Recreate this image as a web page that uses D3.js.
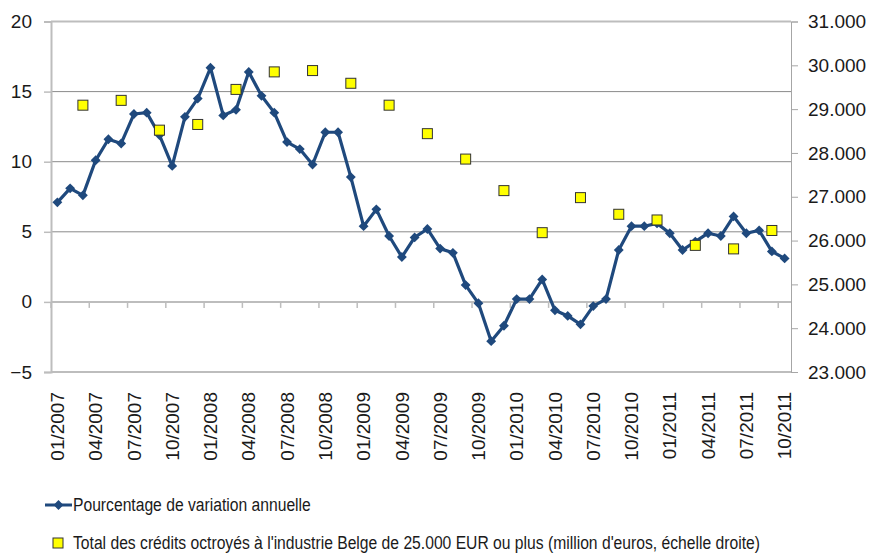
<!DOCTYPE html>
<html>
<head>
<meta charset="utf-8">
<script src="https://cdn.jsdelivr.net/npm/d3@7"></script>
<style>
  body { margin: 0; background: #fff; }
  text { font-family: "Liberation Sans Narrow", "Arial Narrow", "Liberation Sans", sans-serif; fill: #1a1a1a; }
</style>
</head>
<body>
<div class="chart"></div>
<script>
// monthly categories 01/2007 .. 10/2011
let months = [
  "01/2007","02/2007","03/2007","04/2007","05/2007","06/2007","07/2007","08/2007","09/2007","10/2007","11/2007","12/2007",
  "01/2008","02/2008","03/2008","04/2008","05/2008","06/2008","07/2008","08/2008","09/2008","10/2008","11/2008","12/2008",
  "01/2009","02/2009","03/2009","04/2009","05/2009","06/2009","07/2009","08/2009","09/2009","10/2009","11/2009","12/2009",
  "01/2010","02/2010","03/2010","04/2010","05/2010","06/2010","07/2010","08/2010","09/2010","10/2010","11/2010","12/2010",
  "01/2011","02/2011","03/2011","04/2011","05/2011","06/2011","07/2011","08/2011","09/2011","10/2011"
];

// annual % change (left axis)
let pctChange = [
  7.1, 8.1, 7.6, 10.1, 11.6, 11.3, 13.4, 13.5, 11.9, 9.7, 13.2, 14.5,
  16.7, 13.3, 13.7, 16.4, 14.7, 13.5, 11.4, 10.9, 9.8, 12.1, 12.1, 8.9,
  5.4, 6.6, 4.7, 3.2, 4.6, 5.2, 3.8, 3.5, 1.2, -0.1, -2.8, -1.7,
  0.2, 0.2, 1.6, -0.6, -1.0, -1.6, -0.3, 0.2, 3.7, 5.4, 5.4, 5.6,
  4.9, 3.7, 4.3, 4.9, 4.7, 6.1, 4.9, 5.1, 3.6, 3.1
];

// quarterly totals, million euros (right axis)
let quarterMonths = ["03/2007","06/2007","09/2007","12/2007","03/2008","06/2008","09/2008","12/2008",
  "03/2009","06/2009","09/2009","12/2009","03/2010","06/2010","09/2010","12/2010","03/2011","06/2011","09/2011"];
let totalCredits = [29090, 29200, 28520, 28650, 29450, 29850, 29880, 29590,
  29090, 28440, 27860, 27140, 26180, 26980, 26600, 26470, 25890, 25810, 26230];

let leftTicks = [-5, 0, 5, 10, 15, 20];
let rightTicks = [23000, 24000, 25000, 26000, 27000, 28000, 29000, 30000, 31000];

let seriesNames = ["Pourcentage de variation annuelle",
  "Total des crédits octroyés à l'industrie Belge de 25.000 EUR ou plus (million d'euros, échelle droite)"];

let outerWidth = 869, outerHeight = 556;
let margin = {top: 21.5, right: 78, bottom: 184, left: 51};
let width = outerWidth - margin.left - margin.right;
let height = outerHeight - margin.top - margin.bottom;

let svg = d3.select('.chart').append('svg')
  .attr('width', outerWidth)
  .attr('height', outerHeight)
  .append('g')
  .attr('transform', `translate(${margin.left},${margin.top})`);

const xScale = d3.scaleBand().domain(months).range([0, width]).padding(0);
const yScale = d3.scaleLinear().domain([-5, 20]).range([height, 0]);
const y2Scale = d3.scaleLinear().domain([23000, 31000]).range([height, 0]);
let bw = xScale.bandwidth();

// gridlines
svg.append('g').selectAll('line')
  .data(leftTicks)
  .enter().append('line')
  .attr('x1', 0).attr('x2', width)
  .attr('y1', d => yScale(d)).attr('y2', d => yScale(d))
  .attr('stroke', d => (d == 5 || d == 10 || d == 15) ? '#8a8a8a' : '#bdbdbd')
  .attr('stroke-width', d => (d == 5 || d == 10 || d == 15) ? 1 : 2);

// left axis
let yAxis = d3.axisLeft(yScale).tickValues(leftTicks).tickSize(7).tickPadding(12);
let gy = svg.append('g').attr('class', 'axis').call(yAxis);
gy.select('.domain').attr('stroke', '#bdbdbd').attr('stroke-width', 2);
gy.selectAll('.tick line').attr('stroke', '#bdbdbd').attr('stroke-width', 1.5);
gy.selectAll('.tick text').attr('font-size', 19);

// right axis
let y2Axis = d3.axisRight(y2Scale).tickValues(rightTicks).tickSize(7).tickPadding(10)
  .tickFormat(d => d3.format(',')(d).replace(',', '.'));
let gy2 = svg.append('g').attr('transform', `translate(${width},0)`).call(y2Axis);
gy2.select('.domain').attr('stroke', '#a6a6a6');
gy2.selectAll('.tick line').attr('stroke', '#a6a6a6');
gy2.selectAll('.tick text').attr('font-size', 19);

// category axis: ticks on band boundaries, every 3 months, crossing at 0
let tickMonths = months.filter((d, i) => i % 3 == 0);
let xTicks = d3.axisBottom(xScale).tickValues(tickMonths).tickSize(6).tickFormat('');
let gx = svg.append('g').attr('transform', `translate(${-bw / 2},${yScale(0)})`).call(xTicks);
gx.select('.domain').remove();
gx.selectAll('.tick line').attr('stroke', '#bdbdbd').attr('stroke-width', 1.5);

let xLabels = d3.axisBottom(xScale).tickValues(tickMonths).tickSize(0);
let gxl = svg.append('g').attr('transform', `translate(0,${height})`).call(xLabels);
gxl.select('.domain').remove();
gxl.selectAll('.tick text')
  .attr('font-size', 19)
  .attr('transform', 'rotate(-90)')
  .attr('text-anchor', 'end')
  .attr('dy', '0.35em')
  .attr('x', -20)
  .attr('y', 0);

// line series
let line = d3.line()
  .x((d, i) => xScale(months[i]) + bw / 2)
  .y(d => yScale(d));

svg.append('path')
  .datum(pctChange)
  .attr('d', line)
  .attr('fill', 'none')
  .attr('stroke', '#1f497d')
  .attr('stroke-width', 3.2)
  .attr('stroke-linejoin', 'round');

let diamond = d3.symbol().type(d3.symbolDiamond2).size(62);
svg.selectAll('.pt')
  .data(pctChange)
  .enter().append('path')
  .attr('class', 'pt')
  .attr('d', diamond)
  .attr('transform', (d, i) => `translate(${xScale(months[i]) + bw / 2},${yScale(d)})`)
  .attr('fill', '#1f497d');

// squares
svg.selectAll('.sq')
  .data(totalCredits)
  .enter().append('rect')
  .attr('class', 'sq')
  .attr('x', (d, i) => xScale(quarterMonths[i]) + bw / 2 - 5)
  .attr('y', d => y2Scale(d) - 5)
  .attr('width', 10).attr('height', 10)
  .attr('fill', '#ffff00')
  .attr('stroke', '#333')
  .attr('stroke-width', 1);

// legend
let legend = svg.append('g').attr('transform', `translate(${-margin.left},${-margin.top})`);
legend.append('line')
  .attr('x1', 45).attr('x2', 72).attr('y1', 505).attr('y2', 505)
  .attr('stroke', '#1f497d').attr('stroke-width', 3);
legend.append('path')
  .attr('d', diamond)
  .attr('transform', 'translate(58.5,505)')
  .attr('fill', '#1f497d');
legend.append('rect')
  .attr('x', 53).attr('y', 538).attr('width', 10).attr('height', 10)
  .attr('fill', '#ffff00').attr('stroke', '#333');

// the original uses a condensed face, so squeeze the legend text horizontally
let squeeze = 0.825;
legend.selectAll('.lt')
  .data(seriesNames)
  .enter().append('text')
  .attr('class', 'lt')
  .attr('transform', `scale(${squeeze},1)`)
  .attr('x', 73 / squeeze)
  .attr('y', (d, i) => 511 + i * 38)
  .attr('font-size', 19)
  .text(d => d);
</script>
</body>
</html>
